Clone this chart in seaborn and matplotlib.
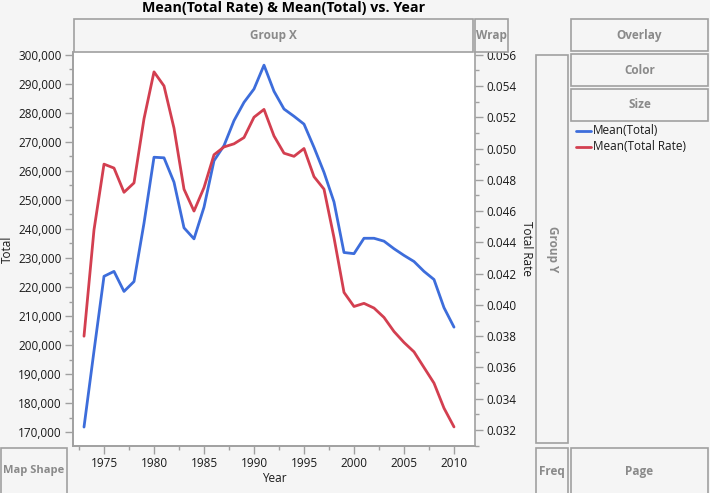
import matplotlib
matplotlib.use("Agg")
import matplotlib.pyplot as plt
import seaborn as sns
import pandas as pd
from matplotlib.patches import Rectangle
from matplotlib.ticker import MultipleLocator, FuncFormatter

# values
years = list(range(1973, 2011))
total = [171800, 198000, 223700, 225400, 218500, 221900, 242000, 264700,
         264500, 256100, 240400, 236600, 247500, 263500, 268700, 277300,
         283600, 288200, 296400, 287400, 281300, 278800, 276100, 268100,
         259500, 249300, 231900, 231500, 236800, 236800, 235800, 233200,
         230900, 228800, 225400, 222600, 212900, 206200]
total_rate = [0.0380, 0.0448, 0.0490, 0.04875, 0.0472, 0.0478, 0.0519, 0.0549,
              0.0540, 0.0513, 0.0474, 0.0460, 0.0475, 0.0496, 0.0501, 0.0503,
              0.0507, 0.0520, 0.0525, 0.0508, 0.0497, 0.0495, 0.0500, 0.0482,
              0.0474, 0.0443, 0.0408, 0.0399, 0.0401, 0.0398, 0.0392, 0.0383,
              0.0376, 0.0370, 0.0360, 0.0350, 0.0334, 0.0322]

df = pd.DataFrame({"Year": years, "Total": total, "Total Rate": total_rate})

blue = "#3d6ddb"
red = "#d33f50"
grey_line = "#a0a0a0"
grey_text = "#8a8a8a"
bg = "#f5f5f5"

sns.set_style("white")
plt.rcParams["font.family"] = ["Open Sans", "DejaVu Sans"]

W, H = 710, 493
fig = plt.figure(figsize=(7.1, 4.93), dpi=100, facecolor=bg)


def rect(x0, y0, x1, y1):
    return [x0 / W, 1 - y1 / H, (x1 - x0) / W, (y1 - y0) / H]


def box(x0, y0, x1, y1, label=None, rot=0, size=8.5):
    r = rect(x0, y0, x1, y1)
    fig.add_artist(Rectangle((r[0], r[1]), r[2], r[3], transform=fig.transFigure,
                             facecolor=bg, edgecolor=grey_line, lw=1.2))
    if label:
        fig.text((x0 + x1) / 2 / W, 1 - (y0 + y1) / 2 / H, label, ha="center",
                 va="center", rotation=rot, color=grey_text, fontsize=size,
                 fontweight="bold")


# drop zones of the graph builder
box(74, 19, 473, 52, "Group X")
box(475, 19, 508, 52, "Wrap")
box(571, 19, 708, 51, "Overlay")
box(571, 54, 708, 86, "Color")
box(571, 89, 708, 121, "Size")
box(536, 55, 568, 443, "Group Y", rot=270)
box(1, 448, 67, 494, "Map Shape", size=8)
box(536, 448, 568, 494, "Freq")
box(571, 448, 708, 494, "Page")

ax = fig.add_axes(rect(73, 52, 475, 446))
ax.set_facecolor("white")
ax2 = ax.twinx()

sns.lineplot(data=df, x="Year", y="Total", ax=ax, color=blue, lw=2)
sns.lineplot(data=df, x="Year", y="Total Rate", ax=ax2, color=red, lw=2)

ax.set_xlim(1971.9, 2012.1)
ax.set_ylim(165280, 300930)
ax2.set_ylim(0.03098, 0.05617)

ax.xaxis.set_major_locator(MultipleLocator(5))
ax.xaxis.set_minor_locator(MultipleLocator(2.5))
ax.yaxis.set_major_locator(MultipleLocator(10000))
ax.yaxis.set_minor_locator(MultipleLocator(5000))
ax.yaxis.set_major_formatter(FuncFormatter(lambda v, p: f"{v:,.0f}"))
ax2.yaxis.set_major_locator(MultipleLocator(0.002))
ax2.yaxis.set_minor_locator(MultipleLocator(0.001))
ax2.yaxis.set_major_formatter(FuncFormatter(lambda v, p: f"{v:.3f}"))

for a in (ax, ax2):
    a.tick_params(which="major", direction="out", length=6, width=1,
                  color=grey_line, labelsize=8.5, labelcolor="#1a1a1a", pad=2)
    a.tick_params(which="minor", direction="out", length=3, width=1,
                  color=grey_line)
    for s in a.spines.values():
        s.set_color(grey_line)
        s.set_linewidth(1.2)
    a.spines["top"].set_visible(False)
ax.tick_params(axis="y", left=True, which="both")
ax.tick_params(axis="x", bottom=True, which="both")
ax2.tick_params(axis="y", right=True, which="both")
ax.spines["right"].set_visible(False)

ax.set_xlabel("Year", fontsize=8.5, color="#1a1a1a", labelpad=1)
ax.set_ylabel("Total", fontsize=8.5, color="#1a1a1a", labelpad=3)
ax2.set_ylabel("Total Rate", fontsize=8.5, color="#1a1a1a", rotation=270,
               labelpad=12)

fig.text(284 / W, 1 - 8 / H, "Mean(Total Rate) & Mean(Total) vs. Year",
         ha="center", va="center", fontsize=10.3, fontweight="bold", color="black")

# legend
for i, (name, c) in enumerate([("Mean(Total)", blue), ("Mean(Total Rate)", red)]):
    yy = 1 - (131 + i * 16) / H
    fig.add_artist(plt.Line2D([576 / W, 591 / W], [yy, yy], color=c, lw=2,
                              transform=fig.transFigure))
    fig.text(593 / W, yy, name, ha="left", va="center", fontsize=8.5,
             color="#1a1a1a")

fig.savefig("out.png", dpi=100, facecolor=bg)
